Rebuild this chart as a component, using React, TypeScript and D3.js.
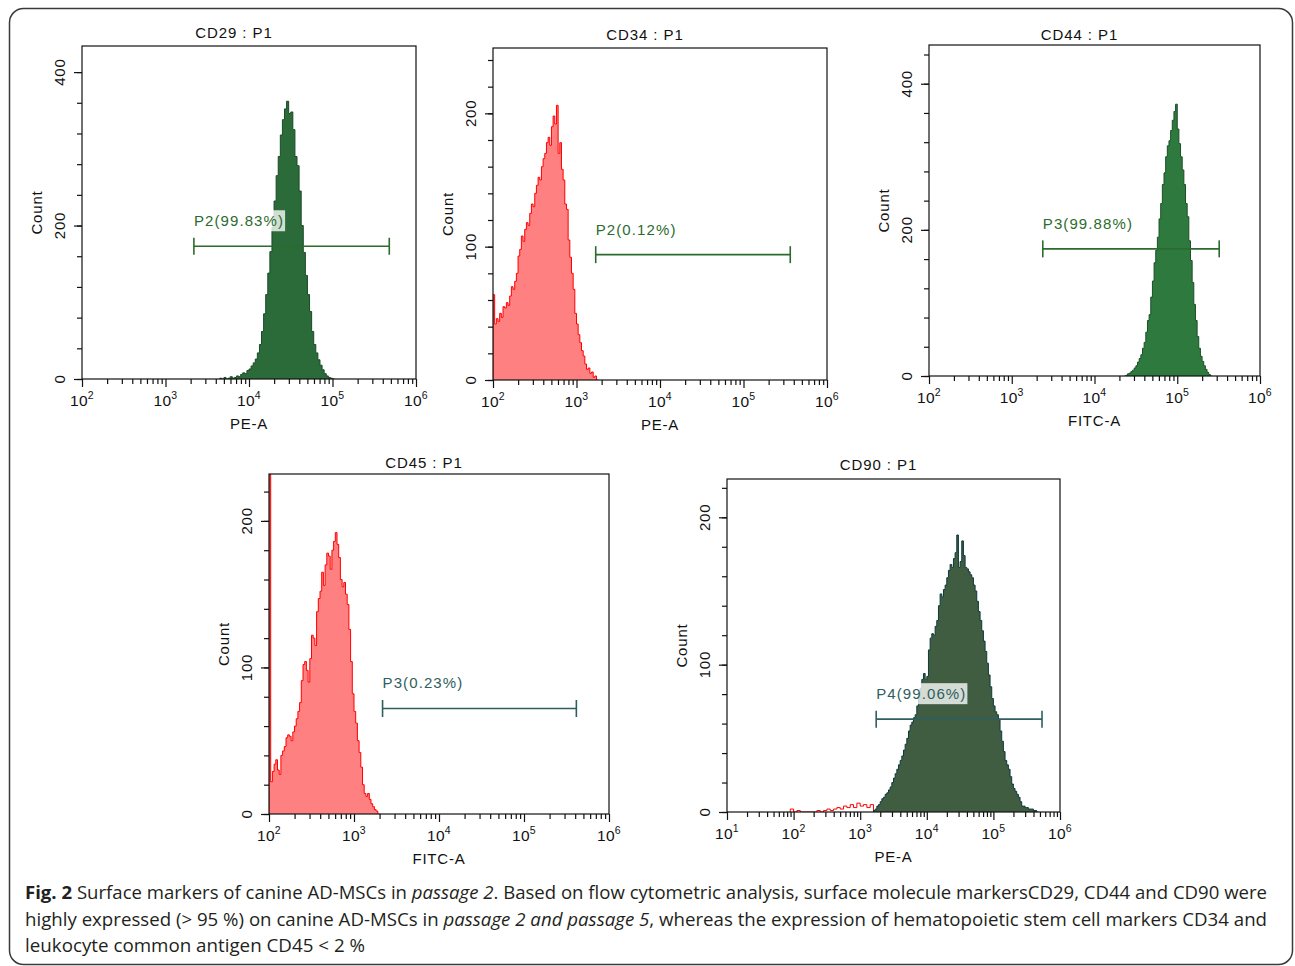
import React, { useEffect, useRef } from 'react';
import * as d3 from 'd3';

// histogram counts; bins start at START (log10) and are STEP wide
const cd29Start = 3.65, cd29Step = 0.025;
const cd29Counts = [1, 0, 2, 0, 1, 3, 1, 2, 4, 3, 6, 8, 7, 11, 13, 17, 21, 26, 34, 45,
  62, 85, 110, 138, 166, 198, 232, 265, 290, 318, 338, 352, 362, 346, 348, 325, 290, 278, 245, 200,
  165, 135, 110, 88, 62, 45, 34, 25, 18, 12, 7, 4, 2, 1, 0];

const cd34Start = 2.0, cd34Step = 0.02;
const cd34Counts = [64, 42, 46, 44, 50, 47, 55, 54, 58, 56, 63, 70, 68, 74, 80, 93, 98, 108, 104, 113,
  118, 116, 125, 132, 130, 140, 146, 152, 150, 160, 166, 170, 178, 182, 176, 190, 198, 192, 206, 170,
  178, 158, 150, 132, 128, 105, 92, 80, 68, 50, 42, 34, 28, 22, 18, 12, 8, 9, 5, 6, 2, 3, 0];

const cd44Start = 4.36, cd44Step = 0.02;
const cd44Counts = [0, 1, 3, 4, 6, 8, 11, 14, 19, 24, 29, 38, 46, 60, 76, 84, 108, 130, 155, 172,
  190, 215, 236, 262, 278, 300, 315, 322, 336, 350, 362, 372, 338, 318, 300, 282, 262, 236, 218, 185,
  158, 128, 98, 76, 54, 38, 27, 20, 14, 9, 5, 2, 0];

const cd45Start = 2.0, cd45Step = 0.02;
const cd45Counts = [300, 22, 29, 34, 37, 30, 27, 40, 43, 46, 52, 54, 53, 50, 56, 60, 65, 70, 76, 91,
  102, 104, 98, 90, 106, 122, 120, 115, 138, 147, 152, 165, 156, 170, 178, 176, 167, 180, 186, 192,
  184, 175, 160, 155, 158, 150, 143, 126, 104, 82, 70, 62, 50, 42, 32, 20, 14, 12, 14, 10,
  7, 5, 3, 2, 0];

const cd90Start = 3.2, cd90Step = 0.025;
const cd90Counts = [1, 2, 4, 5, 7, 9, 10, 12, 13, 15, 17, 20, 23, 26, 29, 32, 35, 38, 42, 46,
  50, 55, 59, 61, 64, 66, 72, 78, 84, 90, 94, 90, 92, 110, 118, 121, 120, 126, 130, 140,
  148, 146, 151, 154, 159, 164, 168, 166, 172, 176, 188, 166, 170, 184, 174, 166, 165, 163, 161, 159,
  154, 150, 143, 136, 130, 123, 116, 109, 101, 93, 85, 77, 72, 68, 66, 63, 55, 48, 41, 35,
  32, 29, 24, 19, 16, 14, 12, 10, 7, 4, 4, 3, 3, 2, 2, 2, 1, 1, 0];

// events outside the P1-gated population in CD90 (drawn in red)
const cd90RedStart = 1.95, cd90RedStep = 0.05;
const cd90RedCounts = [2, 0, 1, 0, 0, 0, 0, 0, 1, 0, 1, 2, 1, 2, 3, 2, 4, 3, 5, 3, 6, 4, 5, 3, 5, 0];

const titles = ['CD29 : P1', 'CD34 : P1', 'CD44 : P1', 'CD45 : P1', 'CD90 : P1'];
const xLabels = ['PE-A', 'PE-A', 'FITC-A', 'FITC-A', 'PE-A'];
const gateNames = ['P2(99.83%)', 'P2(0.12%)', 'P3(99.88%)', 'P3(0.23%)', 'P4(99.06%)'];
// gate: [low log10, high log10, count level]
const gates = [[3.34, 5.68, 173], [3.23, 5.56, 94], [3.375, 5.507, 174], [3.336, 5.616, 72], [3.24, 5.73, 63]];
const yMaxes = [434, 249, 453, 232, 226];
const yLabelSteps = [200, 100, 200, 100, 100];
const xLogRanges = [[2, 6], [2, 6], [2, 6], [2, 6], [1, 6]];

const GREEN_GATE = '#2b6b2d';
const TEAL_GATE = '#2f5e5e';

const panels = [
  { left: 82, right: 416, top: 46, bottom: 379, titleY: 38, fill: '#2b6b3a', stroke: '#1c4a28', gate: GREEN_GATE,
    start: cd29Start, step: cd29Step, counts: cd29Counts },
  { left: 493, right: 827, top: 48, bottom: 380, titleY: 40, fill: '#ff8080', stroke: '#ff0000', gate: GREEN_GATE,
    start: cd34Start, step: cd34Step, counts: cd34Counts },
  { left: 929, right: 1260, top: 45, bottom: 376, titleY: 40, fill: '#2e7a3e', stroke: '#1c4f28', gate: GREEN_GATE,
    start: cd44Start, step: cd44Step, counts: cd44Counts },
  { left: 269, right: 609, top: 474, bottom: 814, titleY: 468, fill: '#ff8080', stroke: '#ff0000', gate: TEAL_GATE,
    start: cd45Start, step: cd45Step, counts: cd45Counts },
  { left: 727, right: 1060, top: 479, bottom: 812, titleY: 470, fill: '#415d41', stroke: '#0c3b3b', gate: TEAL_GATE,
    start: cd90Start, step: cd90Step, counts: cd90Counts,
    extra: { start: cd90RedStart, step: cd90RedStep, counts: cd90RedCounts, color: '#ff0000' } },
];

const FONT = '"Liberation Sans", Arial, sans-serif';

function drawPanel(svg, p, i) {
  const [lo, hi] = xLogRanges[i];
  const yMax = yMaxes[i];
  const x = d3.scaleLog().domain([10 ** lo, 10 ** hi]).range([p.left, p.right]);
  const y = d3.scaleLinear().domain([0, yMax]).range([p.bottom, p.top]);
  const g = svg.append('g').attr('font-family', FONT).attr('fill', '#111');

  const clipId = 'clip' + i;
  g.append('clipPath').attr('id', clipId).append('rect')
    .attr('x', p.left).attr('y', p.top).attr('width', p.right - p.left).attr('height', p.bottom - p.top);

  const toPts = (start, step, counts) => {
    const pts = counts.map((c, k) => [start + k * step, c]);
    pts.push([start + counts.length * step, 0]);
    return pts;
  };
  const area = d3.area().x(d => x(10 ** d[0])).y0(y(0)).y1(d => y(d[1])).curve(d3.curveStepAfter);
  const line = d3.line().x(d => x(10 ** d[0])).y(d => y(d[1])).curve(d3.curveStepAfter);

  const hg = g.append('g').attr('clip-path', `url(#${clipId})`);
  if (p.extra) {
    const ep = toPts(p.extra.start, p.extra.step, p.extra.counts);
    hg.append('path').attr('d', line([[ep[0][0], 0], ...ep])).attr('fill', 'none')
      .attr('stroke', p.extra.color).attr('stroke-width', 1);
  }
  const pts = toPts(p.start, p.step, p.counts);
  hg.append('path').attr('d', area(pts)).attr('fill', p.fill);
  hg.append('path').attr('d', line([[pts[0][0], 0], ...pts])).attr('fill', 'none')
    .attr('stroke', p.stroke).attr('stroke-width', 1);

  // plot frame
  g.append('rect').attr('x', p.left).attr('y', p.top)
    .attr('width', p.right - p.left).attr('height', p.bottom - p.top)
    .attr('fill', 'none').attr('stroke', '#111').attr('stroke-width', 1.2);

  // x ticks
  const majors = d3.range(lo, hi + 1).map(e => 10 ** e);
  const minors = [];
  for (let e = lo; e < hi; e++) for (let k = 2; k <= 9; k++) minors.push(k * 10 ** e);
  const xa = g.append('g').attr('transform', `translate(0,${p.bottom})`).attr('color', '#111');
  xa.append('g').call(d3.axisBottom(x).tickValues(minors).tickSize(5).tickSizeOuter(0).tickFormat(() => ''))
    .call(a => a.select('.domain').remove());
  xa.append('g').call(d3.axisBottom(x).tickValues(majors).tickSize(8).tickSizeOuter(0).tickFormat(() => ''))
    .call(a => a.select('.domain').remove());
  xa.selectAll('line').attr('stroke-width', 1.2);

  majors.forEach((v, k) => {
    const t = g.append('text').attr('x', x(v)).attr('y', p.bottom + 27)
      .attr('text-anchor', 'middle').attr('font-size', 15.5).attr('letter-spacing', 0.3);
    t.append('tspan').text('10');
    t.append('tspan').attr('dy', -7).attr('font-size', 10.5).text(String(lo + k));
  });

  g.append('text').attr('x', (p.left + p.right) / 2).attr('y', p.bottom + 50)
    .attr('text-anchor', 'middle').attr('font-size', 15).attr('letter-spacing', 0.8).text(xLabels[i]);

  // y ticks
  const step = yLabelSteps[i];
  const yMinor = d3.range(0, yMax + 0.01, step / 5);
  const yMajor = d3.range(0, yMax + 0.01, step);
  const ya = g.append('g').attr('transform', `translate(${p.left},0)`).attr('color', '#111');
  ya.append('g').call(d3.axisLeft(y).tickValues(yMinor).tickSize(5).tickSizeOuter(0).tickFormat(() => ''))
    .call(a => a.select('.domain').remove());
  ya.append('g').call(d3.axisLeft(y).tickValues(yMajor).tickSize(8).tickSizeOuter(0).tickFormat(() => ''))
    .call(a => a.select('.domain').remove());
  ya.selectAll('line').attr('stroke-width', 1.2);

  yMajor.forEach(v => {
    g.append('text').attr('transform', `translate(${p.left - 17},${y(v)}) rotate(-90)`)
      .attr('text-anchor', 'middle').attr('font-size', 15).attr('letter-spacing', 0.8).text(String(v));
  });
  g.append('text').attr('transform', `translate(${p.left - 40},${(p.top + p.bottom) / 2}) rotate(-90)`)
    .attr('text-anchor', 'middle').attr('font-size', 15).attr('letter-spacing', 0.8).text('Count');

  // title
  g.append('text').attr('x', (p.left + p.right) / 2 - 15).attr('y', p.titleY)
    .attr('text-anchor', 'middle').attr('font-size', 15).attr('letter-spacing', 0.9).text(titles[i]);

  // gate marker
  const [gl, gh, gy] = gates[i];
  const x1 = x(10 ** gl), x2 = x(10 ** gh), yy = y(gy);
  const gg = g.append('g').attr('stroke', p.gate).attr('stroke-width', 1.6);
  gg.append('line').attr('x1', x1).attr('x2', x2).attr('y1', yy).attr('y2', yy);
  gg.append('line').attr('x1', x1).attr('x2', x1).attr('y1', yy - 8.5).attr('y2', yy + 8.5);
  gg.append('line').attr('x1', x2).attr('x2', x2).attr('y1', yy - 8.5).attr('y2', yy + 8.5);

  const bg = g.append('rect').attr('fill', '#ffffff').attr('opacity', 0.78);
  const lab = g.append('text').attr('x', x1).attr('y', yy - 20).attr('fill', p.gate)
    .attr('font-size', 15).attr('letter-spacing', 1.1).text(gateNames[i]);
  const bb = lab.node().getBBox();
  bg.attr('x', bb.x - 1).attr('y', yy - 36).attr('width', bb.width + 2).attr('height', 21);
}

export default function App() {
  const ref = useRef(null);

  useEffect(() => {
    const svg = d3.select(ref.current);
    svg.selectAll('*').remove();

    svg.append('rect').attr('x', 9.5).attr('y', 8.5).attr('width', 1283).attr('height', 956)
      .attr('rx', 14).attr('fill', '#fff').attr('stroke', '#3a3a3a').attr('stroke-width', 1.5);

    panels.forEach((p, i) => drawPanel(svg, p, i));

    // caption
    const cap = svg.append('g').attr('font-family', '"Open Sans", sans-serif').attr('font-size', 18).attr('fill', '#231f20');
    const l1 = cap.append('text').attr('x', 25).attr('y', 899).attr('textLength', 1242).attr('lengthAdjust', 'spacingAndGlyphs');
    l1.append('tspan').attr('font-weight', 'bold').text('Fig. 2');
    l1.append('tspan').text(' Surface markers of canine AD-MSCs in ');
    l1.append('tspan').attr('font-style', 'italic').text('passage 2');
    l1.append('tspan').text('. Based on flow cytometric analysis, surface molecule markersCD29, CD44 and CD90 were');
    const l2 = cap.append('text').attr('x', 25).attr('y', 926).attr('textLength', 1242).attr('lengthAdjust', 'spacingAndGlyphs');
    l2.append('tspan').text('highly expressed (> 95 %) on canine AD-MSCs in ');
    l2.append('tspan').attr('font-style', 'italic').text('passage 2 and passage 5');
    l2.append('tspan').text(', whereas the expression of hematopoietic stem cell markers CD34 and');
    cap.append('text').attr('x', 25).attr('y', 952).attr('textLength', 340).attr('lengthAdjust', 'spacingAndGlyphs')
      .text('leukocyte common antigen CD45 < 2 %');
  }, []);

  return (
    <svg ref={ref} width={1295} height={966}
      style={{ position: 'absolute', left: 0, top: 0, background: '#fff' }} />
  );
}
